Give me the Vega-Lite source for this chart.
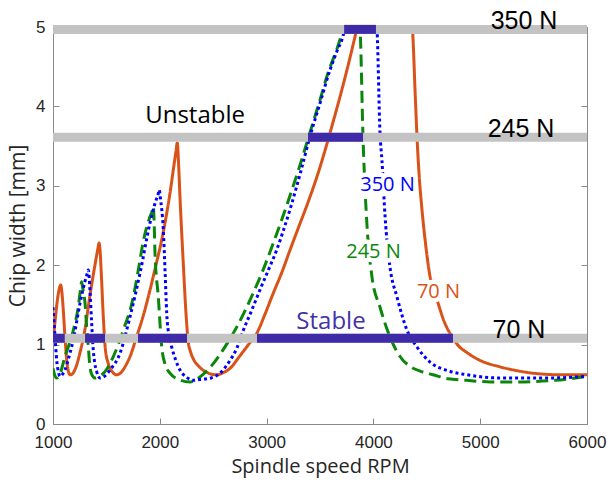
{
  "$schema": "https://vega.github.io/schema/vega-lite/v6.json",
  "width": 534,
  "height": 397,
  "autosize": {"type": "none"},
  "padding": {"left": 53, "top": 27, "right": 20, "bottom": 58},
  "background": "white",
  "config": {
    "view": {"stroke": "#8a8a8a", "strokeWidth": 1},
    "axis": {
      "grid": false,
      "domainColor": "#8a8a8a",
      "tickColor": "#8a8a8a",
      "tickSize": -6,
      "labelFont": "Liberation Sans",
      "labelFontSize": 17,
      "labelColor": "#262626",
      "titleFont": "Open Sans",
      "titleFontSize": 21,
      "titleFontWeight": "normal",
      "titleColor": "#262626",
      "labelFlush": false,
      "labelOverlap": false
    },
    "axisX": {"labelPadding": 16, "titlePadding": 6, "titleFontSize": 20},
    "axisY": {"labelPadding": 14, "titlePadding": 7}
  },
  "datasets": {
    "curves": [
      {"s": "70 N", "x": 1000, "y": 1.02}, {"s": "70 N", "x": 1020, "y": 1.3}, {"s": "70 N", "x": 1040, "y": 1.55}, {"s": "70 N", "x": 1062, "y": 1.72}, {"s": "70 N", "x": 1072, "y": 1.75}, {"s": "70 N", "x": 1084, "y": 1.65}, {"s": "70 N", "x": 1097, "y": 1.42}, {"s": "70 N", "x": 1112, "y": 1.1}, {"s": "70 N", "x": 1128, "y": 0.81}, {"s": "70 N", "x": 1145, "y": 0.66}, {"s": "70 N", "x": 1159, "y": 0.62}, {"s": "70 N", "x": 1180, "y": 0.63}, {"s": "70 N", "x": 1210, "y": 0.7}, {"s": "70 N", "x": 1253, "y": 0.9}, {"s": "70 N", "x": 1300, "y": 1.2}, {"s": "70 N", "x": 1346, "y": 1.62}, {"s": "70 N", "x": 1390, "y": 1.98}, {"s": "70 N", "x": 1422, "y": 2.22}, {"s": "70 N", "x": 1431, "y": 2.28}, {"s": "70 N", "x": 1440, "y": 2.2}, {"s": "70 N", "x": 1452, "y": 1.9}, {"s": "70 N", "x": 1471, "y": 1.35}, {"s": "70 N", "x": 1490, "y": 0.95}, {"s": "70 N", "x": 1518, "y": 0.76}, {"s": "70 N", "x": 1560, "y": 0.65}, {"s": "70 N", "x": 1596, "y": 0.62}, {"s": "70 N", "x": 1630, "y": 0.64}, {"s": "70 N", "x": 1674, "y": 0.72}, {"s": "70 N", "x": 1730, "y": 0.88}, {"s": "70 N", "x": 1783, "y": 1.1}, {"s": "70 N", "x": 1840, "y": 1.34}, {"s": "70 N", "x": 1892, "y": 1.6}, {"s": "70 N", "x": 1960, "y": 1.98}, {"s": "70 N", "x": 2018, "y": 2.32}, {"s": "70 N", "x": 2090, "y": 2.86}, {"s": "70 N", "x": 2150, "y": 3.42}, {"s": "70 N", "x": 2164, "y": 3.54}, {"s": "70 N", "x": 2175, "y": 3.3}, {"s": "70 N", "x": 2189, "y": 2.86}, {"s": "70 N", "x": 2220, "y": 2.02}, {"s": "70 N", "x": 2245, "y": 1.4}, {"s": "70 N", "x": 2265, "y": 1.05}, {"s": "70 N", "x": 2290, "y": 0.9}, {"s": "70 N", "x": 2314, "y": 0.82}, {"s": "70 N", "x": 2370, "y": 0.72}, {"s": "70 N", "x": 2439, "y": 0.65}, {"s": "70 N", "x": 2530, "y": 0.62}, {"s": "70 N", "x": 2600, "y": 0.65}, {"s": "70 N", "x": 2657, "y": 0.7}, {"s": "70 N", "x": 2751, "y": 0.86}, {"s": "70 N", "x": 2830, "y": 1.0}, {"s": "70 N", "x": 2907, "y": 1.14}, {"s": "70 N", "x": 2990, "y": 1.4}, {"s": "70 N", "x": 3063, "y": 1.65}, {"s": "70 N", "x": 3140, "y": 1.9}, {"s": "70 N", "x": 3219, "y": 2.19}, {"s": "70 N", "x": 3300, "y": 2.48}, {"s": "70 N", "x": 3390, "y": 2.8}, {"s": "70 N", "x": 3480, "y": 3.15}, {"s": "70 N", "x": 3563, "y": 3.52}, {"s": "70 N", "x": 3630, "y": 3.84}, {"s": "70 N", "x": 3687, "y": 4.12}, {"s": "70 N", "x": 3760, "y": 4.5}, {"s": "70 N", "x": 3828, "y": 4.88}, {"s": "70 N", "x": 3900, "y": 5.3}, {"s": "70 N", "x": 4050, "y": 6.2}, {"s": "70 N", "x": 4200, "y": 6.2}, {"s": "70 N", "x": 4300, "y": 5.6}, {"s": "70 N", "x": 4368, "y": 4.92}, {"s": "70 N", "x": 4390, "y": 4.2}, {"s": "70 N", "x": 4411, "y": 3.54}, {"s": "70 N", "x": 4430, "y": 3.1}, {"s": "70 N", "x": 4452, "y": 2.74}, {"s": "70 N", "x": 4490, "y": 2.25}, {"s": "70 N", "x": 4530, "y": 1.86}, {"s": "70 N", "x": 4560, "y": 1.7}, {"s": "70 N", "x": 4596, "y": 1.56}, {"s": "70 N", "x": 4660, "y": 1.3}, {"s": "70 N", "x": 4745, "y": 1.08}, {"s": "70 N", "x": 4800, "y": 0.98}, {"s": "70 N", "x": 4876, "y": 0.9}, {"s": "70 N", "x": 5000, "y": 0.8}, {"s": "70 N", "x": 5185, "y": 0.72}, {"s": "70 N", "x": 5350, "y": 0.67}, {"s": "70 N", "x": 5494, "y": 0.64}, {"s": "70 N", "x": 5750, "y": 0.62}, {"s": "70 N", "x": 6000, "y": 0.62},
      {"s": "245 N", "x": 1000, "y": 0.7}, {"s": "245 N", "x": 1015, "y": 0.62}, {"s": "245 N", "x": 1034, "y": 0.58}, {"s": "245 N", "x": 1070, "y": 0.65}, {"s": "245 N", "x": 1112, "y": 0.85}, {"s": "245 N", "x": 1150, "y": 1.0}, {"s": "245 N", "x": 1190, "y": 1.18}, {"s": "245 N", "x": 1237, "y": 1.48}, {"s": "245 N", "x": 1258, "y": 1.7}, {"s": "245 N", "x": 1268, "y": 1.79}, {"s": "245 N", "x": 1280, "y": 1.7}, {"s": "245 N", "x": 1300, "y": 1.52}, {"s": "245 N", "x": 1315, "y": 1.23}, {"s": "245 N", "x": 1331, "y": 0.97}, {"s": "245 N", "x": 1346, "y": 0.72}, {"s": "245 N", "x": 1365, "y": 0.62}, {"s": "245 N", "x": 1393, "y": 0.58}, {"s": "245 N", "x": 1430, "y": 0.6}, {"s": "245 N", "x": 1487, "y": 0.66}, {"s": "245 N", "x": 1565, "y": 0.85}, {"s": "245 N", "x": 1658, "y": 1.18}, {"s": "245 N", "x": 1752, "y": 1.6}, {"s": "245 N", "x": 1800, "y": 1.95}, {"s": "245 N", "x": 1845, "y": 2.3}, {"s": "245 N", "x": 1900, "y": 2.58}, {"s": "245 N", "x": 1928, "y": 2.68}, {"s": "245 N", "x": 1939, "y": 2.74}, {"s": "245 N", "x": 1948, "y": 2.5}, {"s": "245 N", "x": 1955, "y": 2.15}, {"s": "245 N", "x": 1986, "y": 1.6}, {"s": "245 N", "x": 2018, "y": 0.97}, {"s": "245 N", "x": 2050, "y": 0.75}, {"s": "245 N", "x": 2095, "y": 0.64}, {"s": "245 N", "x": 2180, "y": 0.56}, {"s": "245 N", "x": 2283, "y": 0.53}, {"s": "245 N", "x": 2340, "y": 0.56}, {"s": "245 N", "x": 2400, "y": 0.62}, {"s": "245 N", "x": 2501, "y": 0.76}, {"s": "245 N", "x": 2600, "y": 0.95}, {"s": "245 N", "x": 2720, "y": 1.22}, {"s": "245 N", "x": 2875, "y": 1.65}, {"s": "245 N", "x": 2970, "y": 1.95}, {"s": "245 N", "x": 3063, "y": 2.28}, {"s": "245 N", "x": 3200, "y": 2.8}, {"s": "245 N", "x": 3310, "y": 3.25}, {"s": "245 N", "x": 3422, "y": 3.74}, {"s": "245 N", "x": 3500, "y": 4.08}, {"s": "245 N", "x": 3563, "y": 4.37}, {"s": "245 N", "x": 3687, "y": 4.84}, {"s": "245 N", "x": 3780, "y": 5.3}, {"s": "245 N", "x": 3850, "y": 5.3}, {"s": "245 N", "x": 3875, "y": 5.0}, {"s": "245 N", "x": 3903, "y": 3.6}, {"s": "245 N", "x": 3940, "y": 2.5}, {"s": "245 N", "x": 3987, "y": 1.85}, {"s": "245 N", "x": 4062, "y": 1.47}, {"s": "245 N", "x": 4137, "y": 1.16}, {"s": "245 N", "x": 4249, "y": 0.85}, {"s": "245 N", "x": 4350, "y": 0.72}, {"s": "245 N", "x": 4450, "y": 0.66}, {"s": "245 N", "x": 4558, "y": 0.62}, {"s": "245 N", "x": 4700, "y": 0.57}, {"s": "245 N", "x": 4875, "y": 0.55}, {"s": "245 N", "x": 5100, "y": 0.53}, {"s": "245 N", "x": 5345, "y": 0.53}, {"s": "245 N", "x": 5700, "y": 0.55}, {"s": "245 N", "x": 6000, "y": 0.6},
      {"s": "350 N", "x": 1000, "y": 1.47}, {"s": "350 N", "x": 1010, "y": 1.28}, {"s": "350 N", "x": 1019, "y": 1.1}, {"s": "350 N", "x": 1034, "y": 0.81}, {"s": "350 N", "x": 1050, "y": 0.66}, {"s": "350 N", "x": 1066, "y": 0.6}, {"s": "350 N", "x": 1085, "y": 0.62}, {"s": "350 N", "x": 1112, "y": 0.68}, {"s": "350 N", "x": 1150, "y": 0.85}, {"s": "350 N", "x": 1190, "y": 1.06}, {"s": "350 N", "x": 1253, "y": 1.52}, {"s": "350 N", "x": 1300, "y": 1.8}, {"s": "350 N", "x": 1322, "y": 1.9}, {"s": "350 N", "x": 1331, "y": 1.94}, {"s": "350 N", "x": 1339, "y": 1.85}, {"s": "350 N", "x": 1346, "y": 1.69}, {"s": "350 N", "x": 1362, "y": 1.27}, {"s": "350 N", "x": 1377, "y": 0.93}, {"s": "350 N", "x": 1392, "y": 0.76}, {"s": "350 N", "x": 1409, "y": 0.66}, {"s": "350 N", "x": 1440, "y": 0.58}, {"s": "350 N", "x": 1490, "y": 0.61}, {"s": "350 N", "x": 1534, "y": 0.68}, {"s": "350 N", "x": 1627, "y": 0.89}, {"s": "350 N", "x": 1721, "y": 1.35}, {"s": "350 N", "x": 1815, "y": 1.9}, {"s": "350 N", "x": 1908, "y": 2.53}, {"s": "350 N", "x": 1960, "y": 2.8}, {"s": "350 N", "x": 1986, "y": 2.9}, {"s": "350 N", "x": 1995, "y": 2.95}, {"s": "350 N", "x": 2005, "y": 2.85}, {"s": "350 N", "x": 2033, "y": 2.44}, {"s": "350 N", "x": 2050, "y": 1.9}, {"s": "350 N", "x": 2065, "y": 1.39}, {"s": "350 N", "x": 2085, "y": 1.12}, {"s": "350 N", "x": 2111, "y": 0.97}, {"s": "350 N", "x": 2150, "y": 0.8}, {"s": "350 N", "x": 2189, "y": 0.68}, {"s": "350 N", "x": 2250, "y": 0.59}, {"s": "350 N", "x": 2314, "y": 0.55}, {"s": "350 N", "x": 2376, "y": 0.56}, {"s": "350 N", "x": 2480, "y": 0.58}, {"s": "350 N", "x": 2564, "y": 0.64}, {"s": "350 N", "x": 2657, "y": 0.8}, {"s": "350 N", "x": 2720, "y": 0.95}, {"s": "350 N", "x": 2782, "y": 1.18}, {"s": "350 N", "x": 2860, "y": 1.43}, {"s": "350 N", "x": 2938, "y": 1.69}, {"s": "350 N", "x": 3020, "y": 1.95}, {"s": "350 N", "x": 3094, "y": 2.19}, {"s": "350 N", "x": 3160, "y": 2.45}, {"s": "350 N", "x": 3230, "y": 2.75}, {"s": "350 N", "x": 3320, "y": 3.18}, {"s": "350 N", "x": 3406, "y": 3.62}, {"s": "350 N", "x": 3500, "y": 4.04}, {"s": "350 N", "x": 3594, "y": 4.46}, {"s": "350 N", "x": 3660, "y": 4.7}, {"s": "350 N", "x": 3718, "y": 4.9}, {"s": "350 N", "x": 3760, "y": 5.2}, {"s": "350 N", "x": 3900, "y": 6.0}, {"s": "350 N", "x": 4010, "y": 5.3}, {"s": "350 N", "x": 4034, "y": 4.98}, {"s": "350 N", "x": 4062, "y": 3.66}, {"s": "350 N", "x": 4080, "y": 3.32}, {"s": "350 N", "x": 4110, "y": 2.6}, {"s": "350 N", "x": 4155, "y": 1.98}, {"s": "350 N", "x": 4221, "y": 1.6}, {"s": "350 N", "x": 4315, "y": 1.18}, {"s": "350 N", "x": 4408, "y": 0.97}, {"s": "350 N", "x": 4530, "y": 0.78}, {"s": "350 N", "x": 4700, "y": 0.67}, {"s": "350 N", "x": 4876, "y": 0.62}, {"s": "350 N", "x": 5185, "y": 0.58}, {"s": "350 N", "x": 5654, "y": 0.58}, {"s": "350 N", "x": 6000, "y": 0.6}
    ],
    "bars": [
      {"k": "base", "x": 1000, "x2": 6000, "y": 1.08},
      {"k": "base", "x": 1000, "x2": 6000, "y": 3.61},
      {"k": "base", "x": 1000, "x2": 6000, "y": 4.97},
      {"k": "stable", "x": 1000, "x2": 1110, "y": 1.08},
      {"k": "stable", "x": 1300, "x2": 1487, "y": 1.08},
      {"k": "stable", "x": 1796, "x2": 2255, "y": 1.08},
      {"k": "stable", "x": 2910, "x2": 4745, "y": 1.08},
      {"k": "stable", "x": 3388, "x2": 3903, "y": 3.61},
      {"k": "stable", "x": 3726, "x2": 4024, "y": 4.97}
    ],
    "labels": [
      {"g": "force", "s": "350 N", "x": 5410, "y": 5.08},
      {"g": "force", "s": "245 N", "x": 5382, "y": 3.71},
      {"g": "force", "s": "70 N", "x": 5363, "y": 1.18},
      {"g": "curve", "s": "350 N", "x": 4132, "y": 3.01},
      {"g": "curve", "s": "245 N", "x": 4001, "y": 2.17},
      {"g": "curve", "s": "70 N", "x": 4609, "y": 1.66},
      {"g": "unstable", "s": "Unstable", "x": 2330, "y": 3.88},
      {"g": "stable", "s": "Stable", "x": 3603, "y": 1.28}
    ]
  },
  "layer": [
    {
      "data": {"name": "curves"},
      "mark": {"type": "line", "clip": true, "strokeWidth": 3, "strokeCap": "butt", "interpolate": "monotone"},
      "encoding": {
        "x": {"field": "x", "type": "quantitative", "title": "Spindle speed RPM", "scale": {"domain": [1000, 6000], "nice": false, "zero": false},
              "axis": {"values": [1000, 2000, 3000, 4000, 5000, 6000], "format": "d"}},
        "y": {"field": "y", "type": "quantitative", "title": "Chip width [mm]", "scale": {"domain": [0, 5], "nice": false},
              "axis": {"values": [0, 1, 2, 3, 4, 5], "format": "d"}},
        "color": {"field": "s", "type": "nominal", "scale": {"domain": ["70 N", "245 N", "350 N"], "range": ["#D95319", "#0A870A", "#0000FF"]}, "legend": null},
        "strokeDash": {"field": "s", "type": "nominal", "scale": {"domain": ["70 N", "245 N", "350 N"], "range": [[1, 0], [12, 6], [3, 3]]}, "legend": null}
      }
    },
    {
      "data": {"name": "bars"},
      "transform": [{"filter": "datum.k === 'base'"}],
      "mark": {"type": "rule", "color": "#C3C3C3", "strokeWidth": 9, "strokeCap": "butt"},
      "encoding": {
        "x": {"field": "x", "type": "quantitative", "title": "Spindle speed RPM"},
        "x2": {"field": "x2"},
        "y": {"field": "y", "type": "quantitative",
              "axis": {"orient": "right", "labels": false, "title": null, "domain": false, "values": [0, 1, 2, 3, 4, 5]}}
      }
    },
    {
      "data": {"name": "bars"},
      "transform": [{"filter": "datum.k === 'stable'"}],
      "mark": {"type": "rule", "color": "#3F2BA8", "strokeWidth": 9, "strokeCap": "butt"},
      "encoding": {
        "x": {"field": "x", "type": "quantitative", "title": "Spindle speed RPM"},
        "x2": {"field": "x2"},
        "y": {"field": "y", "type": "quantitative", "axis": null}
      }
    },
    {
      "data": {"name": "labels"},
      "transform": [{"filter": "datum.g === 'force'"}],
      "mark": {"type": "text", "font": "Liberation Sans", "fontSize": 25, "color": "#000000", "align": "center", "baseline": "middle"},
      "encoding": {
        "x": {"field": "x", "type": "quantitative", "title": "Spindle speed RPM"},
        "y": {"field": "y", "type": "quantitative", "axis": null},
        "text": {"field": "s"}
      }
    },
    {
      "data": {"name": "labels"},
      "transform": [{"filter": "datum.g === 'curve'"}],
      "mark": {"type": "text", "font": "Open Sans", "fontSize": 20, "color": "#FFFFFF", "stroke": "#FFFFFF", "strokeWidth": 9, "strokeJoin": "round", "align": "center", "baseline": "middle"},
      "encoding": {
        "x": {"field": "x", "type": "quantitative", "title": "Spindle speed RPM"},
        "y": {"field": "y", "type": "quantitative", "axis": null},
        "text": {"field": "s"}
      }
    },
    {
      "data": {"name": "labels"},
      "transform": [{"filter": "datum.g === 'curve'"}],
      "mark": {"type": "text", "font": "Open Sans", "fontSize": 20, "align": "center", "baseline": "middle"},
      "encoding": {
        "x": {"field": "x", "type": "quantitative", "title": "Spindle speed RPM"},
        "y": {"field": "y", "type": "quantitative", "axis": null},
        "text": {"field": "s"},
        "color": {"field": "s", "type": "nominal", "legend": null}
      }
    },
    {
      "data": {"name": "labels"},
      "transform": [{"filter": "datum.g === 'unstable'"}],
      "mark": {"type": "text", "font": "Open Sans", "fontSize": 24, "color": "#000000", "align": "center", "baseline": "middle"},
      "encoding": {
        "x": {"field": "x", "type": "quantitative", "title": "Spindle speed RPM"},
        "y": {"field": "y", "type": "quantitative", "axis": null},
        "text": {"field": "s"}
      }
    },
    {
      "data": {"name": "labels"},
      "transform": [{"filter": "datum.g === 'stable'"}],
      "mark": {"type": "text", "font": "Open Sans", "fontSize": 24, "color": "#4332A8", "align": "center", "baseline": "middle"},
      "encoding": {
        "x": {"field": "x", "type": "quantitative", "title": "Spindle speed RPM"},
        "y": {"field": "y", "type": "quantitative", "axis": null},
        "text": {"field": "s"}
      }
    }
  ],
  "resolve": {"axis": {"y": "independent"}}
}
